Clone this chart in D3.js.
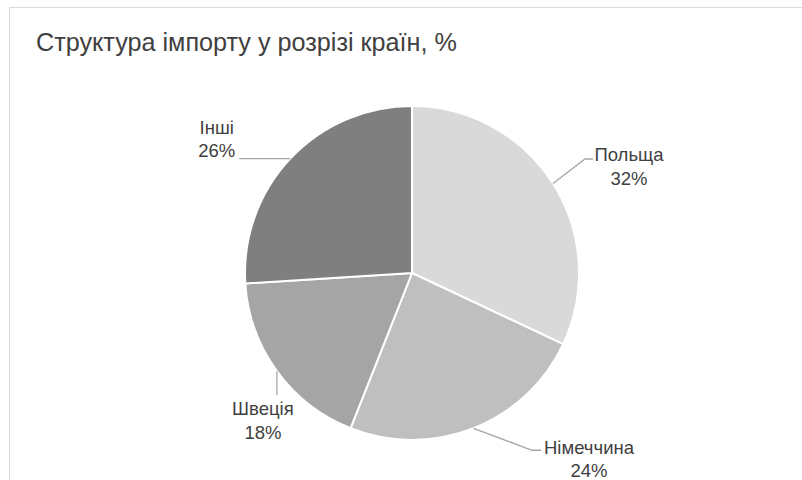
<!DOCTYPE html>
<html>
<head>
<meta charset="utf-8">
<script src="https://cdn.jsdelivr.net/npm/d3@7"></script>
<style>
  html, body { margin: 0; padding: 0; background: #ffffff; }
  svg { display: block; }
  text { font-family: "Liberation Sans", Arial, sans-serif; fill: #404040; }
</style>
</head>
<body>
<svg id="chart" width="802" height="480"></svg>
<script>
// Import structure by country, percent of total
const categories = ["Польща", "Німеччина", "Швеція", "Інші"];
const shares = [32, 24, 18, 26];
const sliceColors = ["#d9d9d9", "#bfbfbf", "#a5a5a5", "#7f7f7f"];
const titleText = "Структура імпорту у розрізі країн, %";

// Leader/label placement relative to the point where each slice's mid-angle meets the rim
const labelLayout = [
  { leader: [[32, -24.5], [40, -24.5]], text: [76, -22.5] },
  { leader: [[58.5, 22], [67.5, 22]], text: [115.5, 25.5] },
  { leader: [[0, 24]], text: [-14, 44] },
  { leader: [[-51, 0]], text: [-73.5, -25] }
];

const width = 802, height = 480;
const cx = 412, cy = 273, radius = 167;
const lineHeight = 23.5;

const svg = d3.select("#chart");

// chart area frame
svg.append("rect")
  .attr("x", 9.5).attr("y", 7.5)
  .attr("width", 820).attr("height", 500)
  .attr("fill", "#ffffff")
  .attr("stroke", "#d9d9d9")
  .attr("stroke-width", 1);

svg.append("text")
  .attr("x", 36).attr("y", 51)
  .attr("font-size", 25.2)
  .text(titleText);

const data = categories.map((c, i) => ({ name: c, value: shares[i], color: sliceColors[i], layout: labelLayout[i] }));

const pie = d3.pie().sort(null).value(d => d.value);
const arc = d3.arc().innerRadius(0).outerRadius(radius);
const arcs = pie(data);

const g = svg.append("g").attr("transform", `translate(${cx},${cy})`);

g.selectAll("path.slice")
  .data(arcs)
  .join("path")
  .attr("class", "slice")
  .attr("d", arc)
  .attr("fill", d => d.data.color)
  .attr("stroke", "#ffffff")
  .attr("stroke-width", 2)
  .attr("stroke-linejoin", "round");

// rim point at each slice's mid-angle
const rimPoint = d => {
  const a = (d.startAngle + d.endAngle) / 2;
  return [radius * Math.sin(a), -radius * Math.cos(a)];
};

const labels = g.selectAll("g.label")
  .data(arcs)
  .join("g")
  .attr("class", "label");

labels.append("path")
  .attr("d", d => {
    const p = rimPoint(d);
    const pts = [p].concat(d.data.layout.leader.map(o => [p[0] + o[0], p[1] + o[1]]));
    return d3.line()(pts);
  })
  .attr("fill", "none")
  .attr("stroke", "#a6a6a6")
  .attr("stroke-width", 1.3);

const labelText = labels.append("text")
  .attr("text-anchor", "middle")
  .attr("font-size", 18.5)
  .attr("transform", d => {
    const p = rimPoint(d);
    const t = d.data.layout.text;
    return `translate(${p[0] + t[0]},${p[1] + t[1]})`;
  });

labelText.append("tspan")
  .attr("x", 0).attr("y", 0)
  .text(d => d.data.name);

labelText.append("tspan")
  .attr("x", 0).attr("y", lineHeight)
  .text(d => d3.format(".0f")(d.data.value) + "%");
</script>
</body>
</html>
